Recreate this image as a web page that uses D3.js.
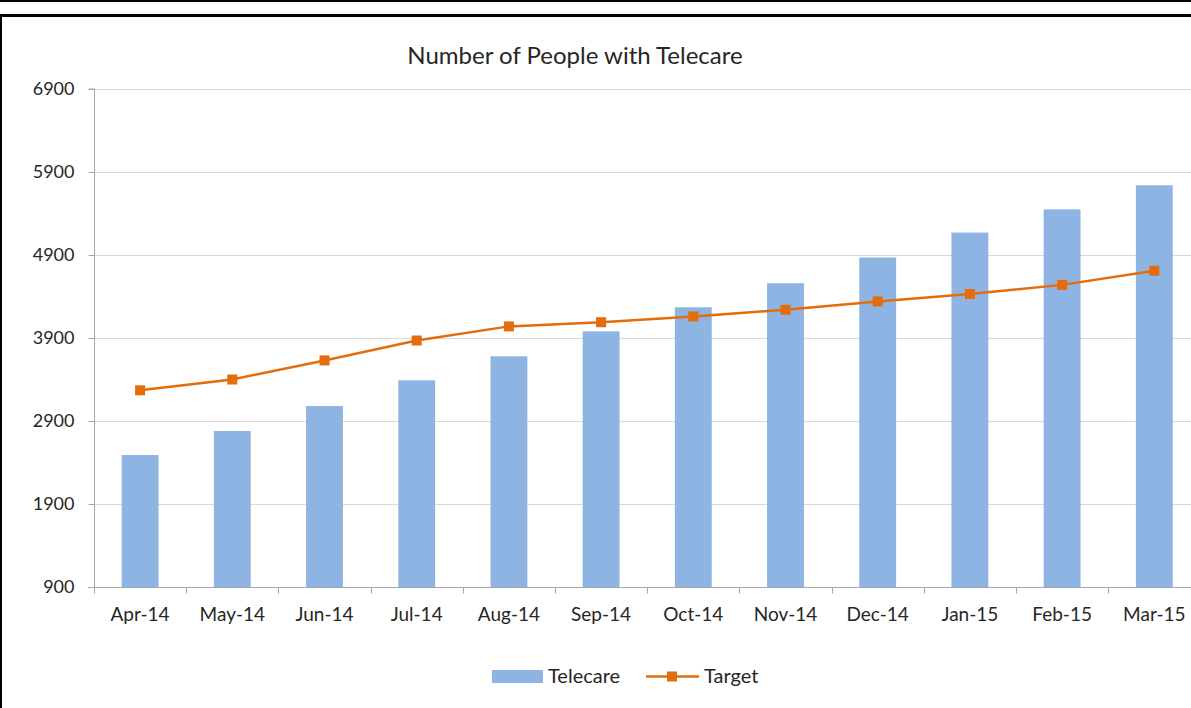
<!DOCTYPE html>
<html>
<head>
<meta charset="utf-8">
<script src="https://cdnjs.cloudflare.com/ajax/libs/d3/7.8.5/d3.min.js"></script>
<style>
  html, body { margin: 0; padding: 0; background: #fff; }
  #chart { width: 1191px; height: 708px; overflow: hidden; }
</style>
</head>
<body>
<div id="chart"></div>
<script>
var months = ['Apr-14', 'May-14', 'Jun-14', 'Jul-14', 'Aug-14', 'Sep-14',
              'Oct-14', 'Nov-14', 'Dec-14', 'Jan-15', 'Feb-15', 'Mar-15'];
var telecare = [2490, 2780, 3080, 3390, 3680, 3980, 4270, 4560, 4870, 5170, 5450, 5740];
var target = [3270, 3400, 3630, 3870, 4040, 4090, 4160, 4240, 4340, 4430, 4540, 4710];
var yTicks = [900, 1900, 2900, 3900, 4900, 5900, 6900];

var W = 1191, H = 708;
var font = 'Lato, "Open Sans", sans-serif';

var svg = d3.select('#chart').append('svg')
  .attr('width', W).attr('height', H)
  .style('font-family', font);

// frame lines of the cropped screenshot
svg.append('rect').attr('x', 0).attr('y', 0).attr('width', W).attr('height', 2).attr('fill', '#000');
svg.append('rect').attr('x', 0).attr('y', 14).attr('width', W).attr('height', 3).attr('fill', '#000');
svg.append('rect').attr('x', 0).attr('y', 14).attr('width', 2).attr('height', H).attr('fill', '#000');

var plotLeft = 94, plotTop = 89, plotBottom = 587;
var x = d3.scaleBand().domain(months).range([plotLeft, plotLeft + 92.2 * 12]).paddingInner(0.6).paddingOuter(0.3);
var y = d3.scaleLinear().domain([900, 6900]).range([plotBottom, plotTop]);

svg.append('text')
  .attr('x', 575).attr('y', 64)
  .attr('text-anchor', 'middle')
  .attr('font-size', 24).attr('fill', '#262626')
  .text('Number of People with Telecare');

// gridlines
svg.append('g').selectAll('line').data(yTicks.slice(1)).join('line')
  .attr('x1', plotLeft).attr('x2', W)
  .attr('y1', d => Math.round(y(d)) + 0.5).attr('y2', d => Math.round(y(d)) + 0.5)
  .attr('stroke', '#d9d9d9').attr('stroke-width', 1);

// bars
svg.append('g').selectAll('rect').data(telecare).join('rect')
  .attr('x', (d, i) => x(months[i]))
  .attr('y', d => y(d))
  .attr('width', x.bandwidth())
  .attr('height', d => plotBottom - y(d))
  .attr('fill', '#8eb4e3');

// y axis
var yAxis = svg.append('g').attr('transform', 'translate(' + (plotLeft + 0.5) + ',0)')
  .call(d3.axisLeft(y).tickValues(yTicks).tickSize(6).tickPadding(14).tickFormat(d3.format('d')));
yAxis.select('.domain').attr('stroke', '#a6a6a6').attr('d', 'M-6,' + plotTop + 'H0V' + plotBottom);
yAxis.selectAll('.tick line').attr('stroke', '#a6a6a6');
yAxis.selectAll('.tick text').attr('font-size', 18).attr('fill', '#262626').attr('font-family', font);

// x axis
var xAxis = svg.append('g').attr('transform', 'translate(0,' + (plotBottom + 0.5) + ')');
xAxis.append('line').attr('x1', plotLeft - 6).attr('x2', W).attr('stroke', '#a6a6a6');
xAxis.selectAll('line.t').data(months).join('line').attr('class', 't')
  .attr('x1', d => Math.round(x(d) - x.step() * 0.3) + 0.5)
  .attr('x2', d => Math.round(x(d) - x.step() * 0.3) + 0.5)
  .attr('y1', 0).attr('y2', 6)
  .attr('stroke', '#a6a6a6');
xAxis.selectAll('text').data(months).join('text')
  .attr('x', d => x(d) + x.bandwidth() / 2)
  .attr('y', 33)
  .attr('text-anchor', 'middle')
  .attr('font-size', 19).attr('fill', '#262626')
  .text(d => d);

// target line
var line = d3.line().x((d, i) => x(months[i]) + x.bandwidth() / 2).y(d => y(d));
svg.append('path').datum(target)
  .attr('d', line).attr('fill', 'none')
  .attr('stroke', '#e46c0a').attr('stroke-width', 2.5);
svg.append('g').selectAll('rect').data(target).join('rect')
  .attr('x', (d, i) => x(months[i]) + x.bandwidth() / 2 - 5)
  .attr('y', d => y(d) - 5)
  .attr('width', 10).attr('height', 10)
  .attr('fill', '#e46c0a');

// legend
var lg = svg.append('g').attr('transform', 'translate(0,676)');
lg.append('rect').attr('x', 492).attr('y', -6).attr('width', 51).attr('height', 13).attr('fill', '#8eb4e3');
lg.append('text').attr('x', 548).attr('y', 7).attr('font-size', 20).attr('fill', '#262626').text('Telecare');
lg.append('line').attr('x1', 646).attr('x2', 699).attr('y1', 0.5).attr('y2', 0.5)
  .attr('stroke', '#e46c0a').attr('stroke-width', 2.5);
lg.append('rect').attr('x', 667).attr('y', -4.5).attr('width', 10).attr('height', 10).attr('fill', '#e46c0a');
lg.append('text').attr('x', 704).attr('y', 7).attr('font-size', 20).attr('fill', '#262626').text('Target');
</script>
</body>
</html>
